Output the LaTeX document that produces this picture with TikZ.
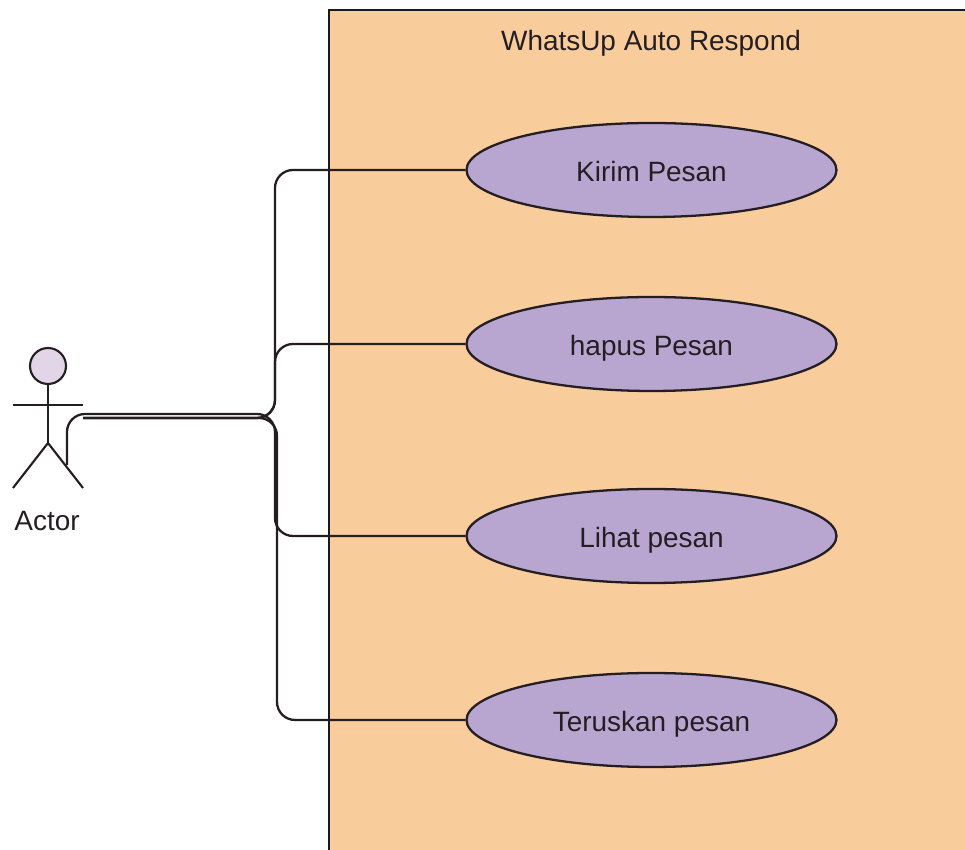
\documentclass[tikz,border=0pt]{standalone}
\usepackage{fontspec}
\setmainfont{Liberation Sans}
\usepackage{tikz}
\usetikzlibrary{arrows,shapes,positioning}
\definecolor{sysfill}{RGB}{249,204,156}
\definecolor{casefill}{RGB}{184,166,208}
\definecolor{headfill}{RGB}{225,213,231}
\definecolor{inkdark}{RGB}{36,30,34}
\tikzset{>=stealth}
\tikzset{
	usecase/.style={ellipse,draw=inkdark,line width=1.3pt,fill=casefill,minimum width=7.4cm,minimum height=1.88cm,inner sep=0pt,text=inkdark,text height=15pt,text depth=1.4pt},
	stick/.style={draw=inkdark,line width=1.2pt},
	link/.style={draw=inkdark,line width=1.3pt,rounded corners=0.36cm},
	every node/.append style={font=\fontsize{15.9}{18}\selectfont}
}

\begin{document}
\begin{tikzpicture}
				\useasboundingbox (0,0) rectangle (19.3,17);
				\clip (0,0) rectangle (19.3,17);

				\draw (6.56,16.82) node (sys) [anchor=north west,draw=inkdark!80!black,line width=1.3pt,fill=sysfill,minimum width=14cm,minimum height=18cm] {};
				\draw (13.02,16.14) node (title) [text=inkdark] {WhatsUp Auto Respond};

				\draw (13.03,13.6) node (u1) [usecase] {Kirim Pesan};
				\draw (13.03,10.12) node (u2) [usecase] {hapus Pesan};
				\draw (13.03,6.28) node (u3) [usecase] {Lihat pesan};
				\draw (13.03,2.6) node (u4) [usecase] {Teruskan pesan};

				\draw (0.96,9.68) node (head) [circle,stick,fill=headfill,minimum size=0.72cm,inner sep=0pt] {};
				\coordinate (hip) at (0.96,8.14);
				\coordinate (handl) at (0.26,8.9);
				\coordinate (handr) at (1.66,8.9);
				\coordinate (footl) at (0.26,7.24);
				\coordinate (footr) at (1.66,7.24);
				\draw [stick] (head) -- (hip);
				\draw [stick] (handl) -- (handr);
				\draw [stick] (footl) -- (hip) -- (footr);
				\draw (0.94,6.58) node (actor) [text=inkdark] {Actor};

				\coordinate (out) at (1.66,8.64);
				\coordinate (leg) at (1.34,7.7);
				\coordinate (k1) at (5.5,13.6);
				\coordinate (k2) at (5.5,10.12);
				\coordinate (k3) at (5.5,8.72);
				\coordinate (k4) at (5.54,8.64);

				\draw [link] (out) -| (k1) -- (u1);
				\draw [link] (out) -| (k2) -- (u2);
				\draw [link] (leg) |- (k3) |- (u3);
				\draw [link] (out) -- (k4) |- (u4);
			\end{tikzpicture}
\end{document}
